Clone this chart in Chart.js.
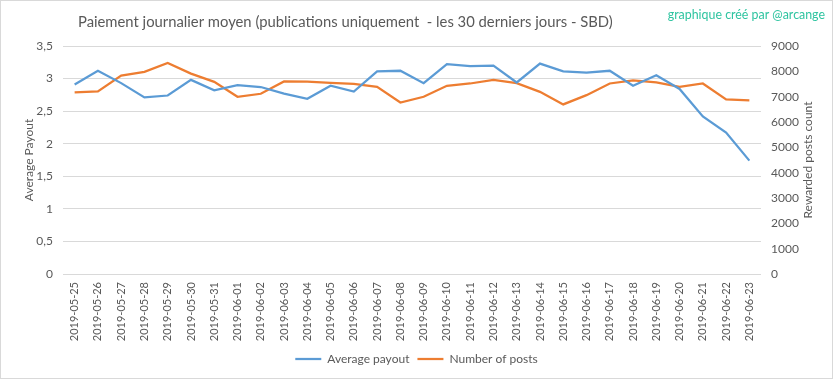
<!DOCTYPE html>
<html><head><meta charset="utf-8">
<script src="https://cdn.jsdelivr.net/npm/chart.js@4"></script>
<style>html,body{margin:0;padding:0;background:#fff;overflow:hidden;} #wrap{position:relative;width:833px;height:379px;}</style>
</head><body><div id="wrap"><canvas id="c" width="833" height="379"></canvas></div>
<script>
const dates = ['2019-05-25','2019-05-26','2019-05-27','2019-05-28','2019-05-29','2019-05-30','2019-05-31',
  '2019-06-01','2019-06-02','2019-06-03','2019-06-04','2019-06-05','2019-06-06','2019-06-07','2019-06-08',
  '2019-06-09','2019-06-10','2019-06-11','2019-06-12','2019-06-13','2019-06-14','2019-06-15','2019-06-16',
  '2019-06-17','2019-06-18','2019-06-19','2019-06-20','2019-06-21','2019-06-22','2019-06-23'];
const avgPayout = [2.91, 3.12, 2.93, 2.71, 2.74, 2.98, 2.82, 2.90, 2.87, 2.77, 2.69, 2.89, 2.80, 3.11, 3.12,
  2.93, 3.22, 3.19, 3.20, 2.94, 3.23, 3.11, 3.09, 3.12, 2.89, 3.05, 2.84, 2.42, 2.17, 1.74];
const postCount = [7165, 7205, 7830, 7980, 8330, 7910, 7585, 6995, 7115, 7600, 7595, 7545, 7505, 7390, 6770,
  6995, 7430, 7520, 7665, 7535, 7190, 6695, 7060, 7520, 7640, 7560, 7390, 7520, 6890, 6850];
const payoutTicks = ['0','0,5','1','1,5','2','2,5','3','3,5'];
const postTicks = ['0','1000','2000','3000','4000','5000','6000','7000','8000','9000'];
const seriesNames = ['Average payout','Number of posts'];
const chartTitle = 'Paiement journalier moyen (publications uniquement  - les 30 derniers jours - SBD)';
const creditText = 'graphique créé par @arcange';
const leftAxisTitle = 'Average Payout';
const rightAxisTitle = 'Rewarded posts count';

const TEXT = '#595959', GRID = '#d9d9d9', FONT = 'Lato, "Open Sans", sans-serif';

const decor = {
  id: 'decor',
  beforeDraw(chart) {
    const ctx = chart.ctx; ctx.save();
    ctx.fillStyle = '#fff'; ctx.fillRect(0, 0, chart.width, chart.height);
    ctx.restore();
  },
  afterDraw(chart) {
    const ctx = chart.ctx; const a = chart.chartArea;
    ctx.save();
    ctx.strokeStyle = GRID; ctx.lineWidth = 1;
    ctx.strokeRect(0.5, 0.5, chart.width - 1, chart.height - 1);
    ctx.fillStyle = TEXT; ctx.font = '14.8px ' + FONT; ctx.textBaseline = 'middle'; ctx.textAlign = 'left';
    ctx.fillText(chartTitle, 78, 22);
    ctx.fillStyle = '#2ec4a0'; ctx.font = '12.4px ' + FONT; ctx.textAlign = 'right';
    ctx.fillText(creditText, 825, 15);
    ctx.fillStyle = TEXT; ctx.font = '12px ' + FONT; ctx.textAlign = 'center';
    ctx.translate(808, (a.top + a.bottom) / 2); ctx.rotate(-Math.PI / 2);
    ctx.fillText(rightAxisTitle, 0, 0);
    ctx.restore();
  }
};

new Chart(document.getElementById('c'), {
  type: 'line',
  data: {
    labels: dates,
    datasets: [
      { label: seriesNames[0], data: avgPayout, yAxisID: 'y', borderColor: '#5b9bd5', backgroundColor: '#5b9bd5',
        borderWidth: 2.25, pointRadius: 0, tension: 0 },
      { label: seriesNames[1], data: postCount, yAxisID: 'y1', borderColor: '#ed7d31', backgroundColor: '#ed7d31',
        borderWidth: 2.25, pointRadius: 0, tension: 0 }
    ]
  },
  options: {
    responsive: false, animation: false, devicePixelRatio: 1,
    layout: { padding: { top: 46, left: 0, right: 0, bottom: 4 } },
    plugins: {
      legend: { position: 'bottom',
        labels: { usePointStyle: true, pointStyle: 'line', pointStyleWidth: 26, color: TEXT,
          font: { family: FONT, size: 12 }, padding: 8 } },
      tooltip: { enabled: false },
      title: { display: false }
    },
    scales: {
      x: { offset: true, grid: { display: false, drawTicks: false }, border: { display: false },
        ticks: { minRotation: 90, maxRotation: 90, autoSkip: false, padding: 8, color: TEXT,
          font: { family: FONT, size: 11 } },
        afterFit(s) { s.height = 71; } },
      y: { position: 'left', min: 0, max: 3.5,
        ticks: { stepSize: 0.5, padding: 10, color: TEXT, font: { family: FONT, size: 12 },
          callback: (v, i) => payoutTicks[i] },
        grid: { color: GRID, drawTicks: false }, border: { display: false },
        title: { display: true, text: leftAxisTitle, color: TEXT, font: { family: FONT, size: 12 },
          padding: { top: 22, bottom: 0 } },
        afterFit(s) { s.width = 63; } },
      y1: { position: 'right', min: 0, max: 9000,
        ticks: { stepSize: 1000, padding: 10, color: TEXT, font: { family: FONT, size: 12 },
          callback: (v, i) => postTicks[i] },
        grid: { display: false, drawTicks: false }, border: { display: false },
        afterFit(s) { s.width = 72; } }
    }
  },
  plugins: [decor]
});
</script>
</body></html>
